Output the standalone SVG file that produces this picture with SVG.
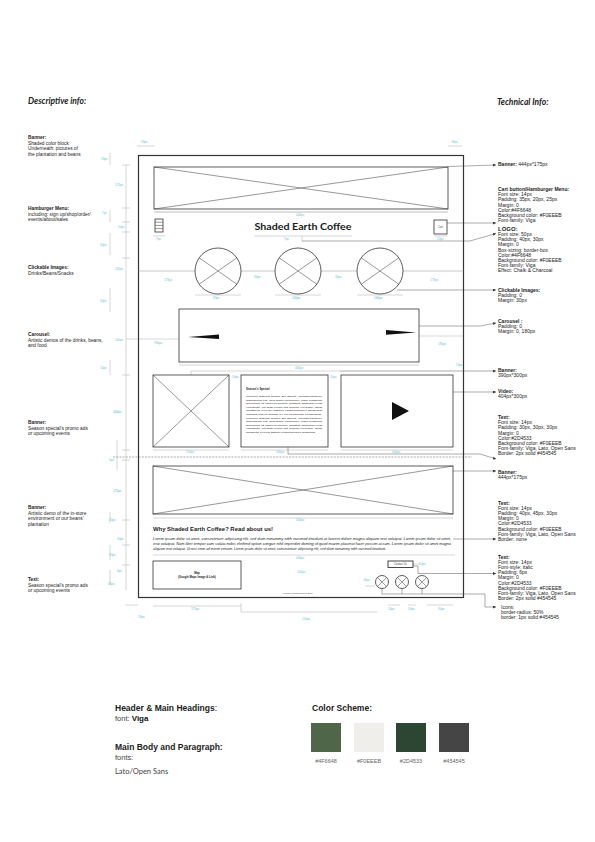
<svg xmlns="http://www.w3.org/2000/svg" width="595" height="842" viewBox="0 0 595 842">
<defs>
<style>
text{font-family:"Liberation Sans",Arial,sans-serif;fill:#222}
.h{font-family:Lato,"Liberation Sans",sans-serif;font-style:italic;font-weight:700;font-size:8.5px}
.a{font-size:4.8px}
.r{font-size:5px}
.b{font-weight:700}
.dl{font-size:3px;fill:#5cc6d6}
.dim{stroke:#9a9a9a;stroke-width:0.4;fill:none}
.wf{fill:#fff;stroke:#333;stroke-width:0.8}
.x{stroke:#333;stroke-width:0.5;fill:none}
.con{stroke:#444;stroke-width:0.45;fill:none;marker-end:url(#ar)}
.tiny{font-size:2.6px;fill:#444}
.lg{font-size:8.5px}
.sw{font-size:5.5px;fill:#666}
</style>
<marker id="ar" viewBox="0 0 6 6" refX="6" refY="3" markerWidth="3" markerHeight="3" orient="auto" markerUnits="userSpaceOnUse"><path d="M0 0L6 3L0 6z" fill="#333"/></marker>
</defs>
<rect width="595" height="842" fill="#fff"/>

<text class="h" x="28" y="104">Descriptive info:</text>
<text class="h" x="497" y="105">Technical Info:</text>

<!-- dimension lines -->
<g id="dimensions">
<path class="dim" d="M137 146H155M448 146H462"/>
<path class="dim" d="M110 153V165M126 165V590M110 210V222M110 233V255M110 288V312M110 360V375M117 440V470M110 512V523M110 545V560M110 570V585"/>
<path class="dim" d="M122 165H130M122 208H130M122 222H130M122 232H130M122 258H130M122 375H130M122 450H130M122 460H130M122 520H130M122 545H130M122 565H130"/>
<path class="dim" d="M153 236H165M254 236H352M302 236V241M434 236H447M195 295H241M275 295H321M357 295H403"/>
<path class="dim" d="M126 339H179M419 336H463M179 365H419M191 371H340M191 371V375M153 450H229M241 450H328M341 450H453M153 518H453M153 555H455M365 586H375M413 564H420"/>
<path class="dim" d="M153 606H241M241 603V612M241 612H377M388 605H400M408 605H416M427 605H453M125 605H138"/>
</g>
<g id="dim-labels">
<text class="dl" x="141" y="143">18px</text>
<text class="dl" x="451" y="143">18px</text>
<text class="dl" x="101" y="160">18px</text>
<text class="dl" x="115" y="186">175px</text>
<text class="dl" x="102" y="214">7px</text>
<text class="dl" x="118" y="228">50px</text>
<text class="dl" x="100" y="246">30px</text>
<text class="dl" x="115" y="270">100px</text>
<text class="dl" x="100" y="302">30px</text>
<text class="dl" x="115" y="341">100px</text>
<text class="dl" x="100" y="369">10px</text>
<text class="dl" x="113" y="413" style="fill:#3db8e0">300px</text>
<text class="dl" x="109" y="461">5px</text>
<text class="dl" x="113" y="492" style="fill:#3db8e0">175px</text>
<text class="dl" x="109" y="521">30px</text>
<text class="dl" x="117" y="540">40px</text>
<text class="dl" x="109" y="556">30px</text>
<text class="dl" x="117" y="572">6px</text>
<text class="dl" x="108" y="585">30px</text>
<text class="dl" x="296" y="216">444px</text>
<text class="dl" x="156" y="240">7px</text>
<text class="dl" x="284" y="240">7px</text>
<text class="dl" x="437" y="240">10px</text>
<text class="dl" x="164" y="281">173px</text>
<text class="dl" x="254" y="278">30px</text>
<text class="dl" x="335" y="278">30px</text>
<text class="dl" x="430" y="281">173px</text>
<text class="dl" x="213" y="299">93px</text>
<text class="dl" x="292" y="299" style="fill:#3db8e0">100px</text>
<text class="dl" x="374" y="299" style="fill:#3db8e0">100px</text>
<text class="dl" x="154" y="344">180px</text>
<text class="dl" x="438" y="345">180px</text>
<text class="dl" x="295" y="369">444px</text>
<text class="dl" x="456" y="366">10px</text>
<text class="dl" x="232" y="378">10px</text>
<text class="dl" x="330" y="378">10px</text>
<text class="dl" x="186" y="453">150px</text>
<text class="dl" x="276" y="453">160px</text>
<text class="dl" x="392" y="453">404px</text>
<text class="dl" x="296" y="521">444px</text>
<text class="dl" x="296" y="559">444px</text>
<text class="dl" x="297" y="573">200px</text>
<text class="dl" x="419" y="565">10px</text>
<text class="dl" x="363" y="581">18px</text>
<text class="dl" x="191" y="610">175px</text>
<text class="dl" x="302" y="620">250px</text>
<text class="dl" x="388" y="610">10px</text>
<text class="dl" x="408" y="610">10px</text>
<text class="dl" x="438" y="610">30px</text>
<text class="dl" x="138" y="618">18px</text>
</g>

<!-- main frame -->
<g id="frame"><rect x="138.5" y="155.5" width="325" height="442" fill="none" stroke="#333" stroke-width="1.2"/></g>

<g id="top-banner">
<rect class="wf" x="154" y="167" width="294" height="42"/>
<path class="x" d="M154 167L448 209M448 167L154 209"/>
<line class="dim" x1="154" y1="212" x2="448" y2="212" style="stroke:#555"/>
</g>

<g id="hamburger">
<rect class="wf" x="155" y="219" width="8" height="13" stroke-width="0.6"/>
<path class="x" d="M155 222.2H163M155 225.4H163M155 228.6H163"/>
</g>

<g id="logo"><text x="303" y="230" text-anchor="middle" style="font-family:Lato,'Liberation Sans',sans-serif;font-weight:700;font-size:10px;fill:#1a1a1a" textLength="97" lengthAdjust="spacingAndGlyphs">Shaded Earth Coffee</text></g>

<g id="cart">
<rect class="wf" x="434" y="220" width="13" height="14" stroke-width="0.6"/>
<text class="tiny" x="440.5" y="228" text-anchor="middle">Cart</text>
</g>

<g id="clickable-images">
<path class="dim" d="M138 271H195M241 271H275M321 271H357M403 271H464" style="stroke:#777"/>
<circle class="wf" cx="218" cy="271" r="23"/>
<path class="x" d="M199.2 257.8L236.8 284.2M199.2 284.2L236.8 257.8"/>
<circle class="wf" cx="298" cy="271" r="23"/>
<path class="x" d="M279.2 257.8L316.8 284.2M279.2 284.2L316.8 257.8"/>
<circle class="wf" cx="380" cy="271" r="23"/>
<path class="x" d="M361.2 257.8L398.8 284.2M361.2 284.2L398.8 257.8"/>
</g>

<g id="carousel">
<rect class="wf" x="179" y="309" width="240" height="53" stroke-width="0.9"/>
<polygon points="188,337 219,334.5 219,339" fill="#111"/>
<polygon points="386,330 386,334.7 416,332.4" fill="#111"/>
</g>

<g id="promo-banner">
<rect class="wf" x="153" y="375" width="76" height="72"/>
<path class="x" d="M153 375L229 447M229 375L153 447"/>
</g>

<g id="season-special">
<rect class="wf" x="241" y="375" width="87" height="72" stroke-width="0.6"/>
<text x="246" y="390" style="font-size:2.9px;font-weight:700">Season's Special</text>
<g class="tiny" style="font-size:2.3px">
<text x="246" y="397" textLength="76" lengthAdjust="spacingAndGlyphs">Lorem ipsum dolor sit amet, consectetuer</text>
<text x="246" y="400.6" textLength="76" lengthAdjust="spacingAndGlyphs">adipiscing elit, sed diam nonummy nibh euismod</text>
<text x="246" y="404.2" textLength="76" lengthAdjust="spacingAndGlyphs">tincidunt ut laoreet dolore magna aliquam erat</text>
<text x="246" y="407.8" textLength="76" lengthAdjust="spacingAndGlyphs">volutpat. Ut wisi enim ad minim veniam, quis</text>
<text x="246" y="411.4" textLength="76" lengthAdjust="spacingAndGlyphs">nostrud exerci tation ullamcorper suscipit</text>
<text x="246" y="415" textLength="76" lengthAdjust="spacingAndGlyphs">lobortis nisl ut aliquip ex ea commodo consequat.</text>
<text x="246" y="418.6" textLength="76" lengthAdjust="spacingAndGlyphs">Lorem ipsum dolor sit amet, consectetuer</text>
<text x="246" y="422.2" textLength="76" lengthAdjust="spacingAndGlyphs">adipiscing elit, sed diam nonummy nibh euismod</text>
<text x="246" y="425.8" textLength="76" lengthAdjust="spacingAndGlyphs">tincidunt ut laoreet dolore magna aliquam erat</text>
<text x="246" y="429.4" textLength="76" lengthAdjust="spacingAndGlyphs">volutpat. Ut wisi enim ad minim veniam, quis</text>
<text x="246" y="433" textLength="70" lengthAdjust="spacingAndGlyphs">nostrud exerci tation ullamcorper suscipit.</text>
</g>
</g>

<g id="video">
<rect class="wf" x="341" y="375" width="112" height="72" stroke-width="0.6"/>
<polygon points="392,402 392,420 409,411" fill="#111"/>
</g>

<line x1="113" y1="457" x2="472" y2="457" stroke="#555" stroke-width="0.5" stroke-dasharray="2 1.2"/>

<g id="bottom-banner">
<rect class="wf" x="153" y="466" width="300" height="48" stroke-width="0.9"/>
<path class="x" d="M153 466L453 514M453 466L153 514"/>
</g>

<g id="about">
<text x="153" y="531" style="font-size:4.6px;font-weight:700" textLength="120" lengthAdjust="spacingAndGlyphs">Why Shaded Earth Coffee? Read about us!</text>
<g class="tiny" style="font-size:3.2px;font-style:italic">
<text x="153" y="540" textLength="298" lengthAdjust="spacingAndGlyphs">Lorem ipsum dolor sit amet, consectetuer adipiscing elit, sed diam nonummy nibh euismod tincidunt ut laoreet dolore magna aliquam erat volutpat. Lorem ipsum dolor sit amet,</text>
<text x="153" y="545" textLength="298" lengthAdjust="spacingAndGlyphs">erat volutpat. Nam liber tempor cum soluta nobis eleifend option congue nihil imperdiet doming id quod mazim placerat facer possim assum. Lorem ipsum dolor sit amet magna</text>
<text x="153" y="550" textLength="233" lengthAdjust="spacingAndGlyphs">aliquam erat volutpat. Ut wisi enim ad minim veniam. Lorem ipsum dolor sit amet, consectetuer adipiscing elit, sed diam nonummy nibh euismod tincidunt.</text>
</g>
</g>

<g id="map">
<rect class="wf" x="153" y="561" width="88" height="28" stroke-width="0.7"/>
<text x="197" y="574" text-anchor="middle" style="font-size:2.8px;font-weight:700">Map</text>
<text x="197" y="578" text-anchor="middle" style="font-size:2.8px;font-weight:700">(Google Maps Image &amp; Link)</text>
</g>

<g id="contact">
<rect x="388" y="561" width="25" height="6.5" fill="#fff" stroke="#333" stroke-width="0.9"/>
<text class="tiny" x="400.5" y="565.3" text-anchor="middle">Contact Us</text>
</g>

<g id="icons">
<circle class="wf" cx="382" cy="582" r="6.5" stroke-width="0.6"/>
<path class="x" d="M377.4 577.4L386.6 586.6M377.4 586.6L386.6 577.4"/>
<circle class="wf" cx="402" cy="582" r="6.5" stroke-width="0.6"/>
<path class="x" d="M397.4 577.4L406.6 586.6M397.4 586.6L406.6 577.4"/>
<circle class="wf" cx="422" cy="582" r="6.5" stroke-width="0.6"/>
<path class="x" d="M417.4 577.4L426.6 586.6M417.4 586.6L426.6 577.4"/>
</g>

<g id="footer"><text class="tiny" x="298" y="594" text-anchor="middle" style="font-size:2.4px">Proudly Roasted since 2019</text></g>

<!-- connectors -->
<g id="connectors">
<path class="con" d="M448 166.5L496 165"/>
<path class="con" d="M447 223H496"/>
<path class="con" d="M302 241H470L496 233.5"/>
<path class="con" d="M397 290H496"/>
<path class="con" d="M419 326H480L496 323"/>
<path class="con" d="M340 371H496"/>
<path class="con" d="M453 392H496"/>
<path class="con" d="M288 447V454H480L496 459"/>
<path class="con" d="M453 471H496"/>
<path class="con" d="M453 539L496 539"/>
<path class="con" d="M413 566H418V573.5H496"/>
<path class="dim" d="M382 588.5V594M402 588.5V594M422 588.5V594M382 594H485" style="stroke:#444;stroke-width:0.45"/>
<path class="con" d="M485 594V607H496"/>
</g>

<!-- left descriptions -->
<g id="desc-banner" class="a"><text class="b" x="28" y="139">Banner:</text><text x="28" y="144.5">Shaded color block</text><text x="28" y="150">Underneath: pictures of</text><text x="28" y="155.5">the plantation and beans</text></g>
<g id="desc-hamburger" class="a"><text class="b" x="28" y="210">Hamburger Menu:</text><text x="28" y="215.5">including: sign up/shop/order/</text><text x="28" y="221">events/about/sales</text></g>
<g id="desc-clickable" class="a"><text class="b" x="28" y="269">Clickable Images:</text><text x="28" y="274.5">Drinks/Beans/Snacks</text></g>
<g id="desc-carousel" class="a"><text class="b" x="28" y="336">Carousel:</text><text x="28" y="341.5">Artistic demos of the drinks, beans,</text><text x="28" y="347">and food</text></g>
<g id="desc-banner2" class="a"><text class="b" x="28" y="424">Banner:</text><text x="28" y="429.5">Season special's promo ads</text><text x="28" y="435">or upcoming events</text></g>
<g id="desc-banner3" class="a"><text class="b" x="28" y="509">Banner:</text><text x="28" y="514.5">Artistic demo of the in-store</text><text x="28" y="520">environment or our beans'</text><text x="28" y="525.5">plantation</text></g>
<g id="desc-text" class="a"><text class="b" x="28" y="581">Text:</text><text x="28" y="586.5">Season special's promo ads</text><text x="28" y="592">or upcoming events</text></g>

<!-- right technical -->
<g id="tech-banner" class="r"><text x="498" y="166"><tspan class="b">Banner:</tspan> 444px*175px</text></g>
<g id="tech-cart" class="r">
<text class="b" x="498" y="191">Cart button/Hamburger Menu:</text>
<text x="498" y="196.2">Font size: 14px</text>
<text x="498" y="201.4">Padding: 35px, 20px,  25px</text>
<text x="498" y="206.6">Margin: 0</text>
<text x="498" y="211.8">Color:#4F6648</text>
<text x="498" y="217">Background color: #F0EEEB</text>
<text x="498" y="222.2">Font-family: Viga</text>
</g>
<g id="tech-logo" class="r">
<text class="b" x="498" y="230.5" style="font-size:6px">LOGO:</text>
<text x="498" y="236">Font size: 50px</text>
<text x="498" y="241.2">Padding: 40px, 30px</text>
<text x="498" y="246.4">Margin: 0</text>
<text x="498" y="251.6">Box-sizing: border-box</text>
<text x="498" y="256.8">Color:#4F6648</text>
<text x="498" y="262">Background color: #F0EEEB</text>
<text x="498" y="267.2">Font-family: Viga</text>
<text x="498" y="272.4">Effect: Chalk &amp; Charcoal</text>
</g>
<g id="tech-clickable" class="r"><text class="b" x="498" y="292">Clickable Images:</text><text x="498" y="297.2">Padding: 0</text><text x="498" y="302.4">Margin: 30px</text></g>
<g id="tech-carousel" class="r"><text class="b" x="498" y="322.5">Carousel :</text><text x="498" y="327.7">Padding: 0</text><text x="498" y="332.9">Margin: 0, 180px</text></g>
<g id="tech-banner2" class="r"><text class="b" x="498" y="371.5">Banner:</text><text x="498" y="376.7">390px*300px</text></g>
<g id="tech-video" class="r"><text class="b" x="498" y="392.5">Video:</text><text x="498" y="397.7">404px*300px</text></g>
<g id="tech-text1" class="r">
<text class="b" x="498" y="419">Text:</text>
<text x="498" y="424.2">Font size: 14px</text>
<text x="498" y="429.4">Padding: 30px, 30px,  30px</text>
<text x="498" y="434.6">Margin: 0</text>
<text x="498" y="439.8">Color:#2D4533</text>
<text x="498" y="445">Background color: #F0EEEB</text>
<text x="498" y="450.2">Font-family: Viga, Lato, Open Sans</text>
<text x="498" y="455.4">Border: 2px solid #454545</text>
</g>
<g id="tech-banner3" class="r"><text class="b" x="498" y="473.5">Banner:</text><text x="498" y="478.7">444px*175px</text></g>
<g id="tech-text2" class="r">
<text class="b" x="498" y="504.5">Text:</text>
<text x="498" y="509.7">Font size: 14px</text>
<text x="498" y="514.9">Padding: 40px, 45px,  30px</text>
<text x="498" y="520.1">Margin: 0</text>
<text x="498" y="525.3">Color:#2D4533</text>
<text x="498" y="530.5">Background color: #F0EEEB</text>
<text x="498" y="535.7">Font-family: Viga, Lato, Open Sans</text>
<text x="498" y="540.9">Border: none</text>
</g>
<g id="tech-text3" class="r">
<text class="b" x="498" y="558.5">Text:</text>
<text x="498" y="563.7">Font size: 14px</text>
<text x="498" y="568.9">Font-style: italic</text>
<text x="498" y="574.1">Padding: 6px</text>
<text x="498" y="579.3">Margin: 0</text>
<text x="498" y="584.5">Color:#2D4533</text>
<text x="498" y="589.7">Background color: #F0EEEB</text>
<text x="498" y="594.9">Font-family: Viga, Lato, Open Sans</text>
<text x="498" y="600.1">Border: 2px solid #454545</text>
</g>
<g id="tech-icons" class="r"><text x="501" y="609">Icons:</text><text x="501" y="614.2">border-radius: 50%</text><text x="501" y="619.4">border: 1px solid #454545</text></g>

<!-- legend -->
<g id="fonts-legend" class="lg">
<text class="b" x="115" y="711">Header &amp; Main Headings<tspan style="font-weight:400">:</tspan></text>
<text x="115" y="721" style="font-size:7.5px;fill:#444">font: <tspan style="font-weight:700;fill:#111;font-family:'Liberation Sans Narrow','Liberation Sans',sans-serif;font-size:8px">Viga</tspan></text>
<text class="b" x="115" y="750">Main Body and Paragraph:</text>
<text x="115" y="760" style="font-size:7.5px;fill:#444">fonts:</text>
<text x="115" y="774" style="font-size:7.5px;fill:#444;font-family:Lato,sans-serif">Lato/Open Sans</text>
</g>
<g id="color-scheme">
<text class="b lg" x="312" y="711">Color Scheme:</text>
<rect x="311" y="723" width="30" height="29" fill="#4F6648"/>
<rect x="354" y="723" width="30" height="29" fill="#F0EEEB"/>
<rect x="396" y="723" width="30" height="29" fill="#2D4533"/>
<rect x="439" y="723" width="30" height="29" fill="#454545"/>
<text class="sw" x="326" y="763" text-anchor="middle">#4F6648</text>
<text class="sw" x="369" y="763" text-anchor="middle">#F0EEEB</text>
<text class="sw" x="411" y="763" text-anchor="middle">#2D4533</text>
<text class="sw" x="454" y="763" text-anchor="middle">#454545</text>
</g>
</svg>
